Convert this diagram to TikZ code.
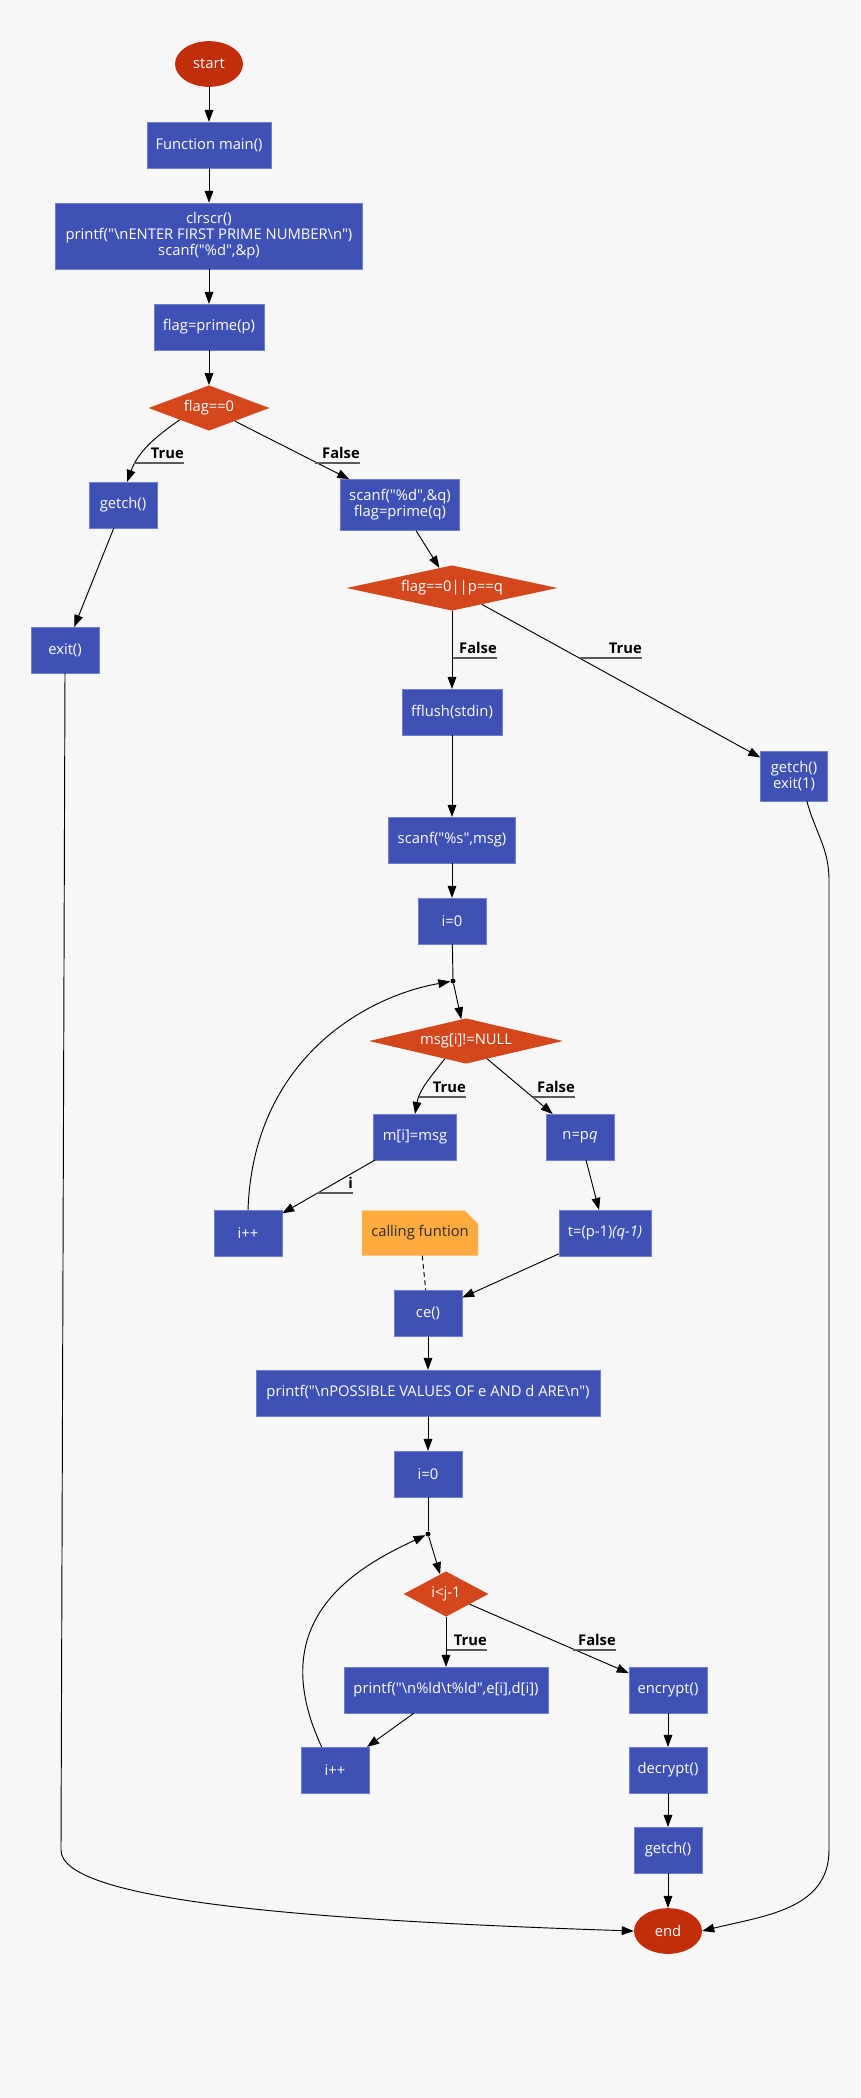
\documentclass[tikz,border=0pt]{standalone}
\usepackage{fontspec}
\setmainfont{Open Sans}[Ligatures=TeXOff]
\usetikzlibrary{shapes.geometric,shapes.misc,arrows.meta,positioning}

\definecolor{bgc}{HTML}{F7F7F7}
\definecolor{boxfill}{HTML}{3F51B5}
\definecolor{boxline}{HTML}{6F7ED0}
\definecolor{ifred}{HTML}{D4461B}
\definecolor{termred}{HTML}{C22E0A}
\definecolor{notefill}{HTML}{FFAB40}
\definecolor{noteline}{HTML}{FFC47E}
\definecolor{notetext}{HTML}{2B2B2B}

\begin{document}
\begin{tikzpicture}[x=0.03cm,y=0.03cm,
          every node/.style={font=\fontsize{12.6}{13.7}\selectfont,text=white,align=center},
          box/.style={rectangle,fill=boxfill,draw=boxline,line width=0.4pt,minimum width=2.04cm,minimum height=1.37cm,inner sep=2pt},
          ifbox/.style={diamond,fill=ifred,aspect=3.5,inner sep=0pt,minimum height=1.36cm},
          term/.style={ellipse,fill=termred,minimum width=2.04cm,minimum height=1.37cm,inner sep=0pt},
          note/.style={chamfered rectangle,chamfered rectangle corners=north east,chamfered rectangle xsep=0.2cm,chamfered rectangle ysep=0.2cm,
                       fill=notefill,draw=noteline,line width=0.4pt,text=notetext,minimum width=3.48cm,minimum height=1.35cm,inner sep=2pt},
          jdot/.style={circle,fill=black,inner sep=0pt,minimum size=0.15cm},
          lab/.style={font=\fontsize{12.6}{13.7}\selectfont\bfseries,text=black,anchor=south east,align=right,
                      inner xsep=0pt,inner ysep=4pt,text depth=0pt,
                      append after command={(\tikzlastnode.south west) edge[uline] (\tikzlastnode.south east)}},
          uline/.style={draw=black!65,line width=1pt},
          arr/.style={draw=black,line width=0.8pt,-{Triangle[length=0.36cm,width=0.26cm]}},
          ln/.style={draw=black,line width=0.8pt}]

                \fill[bgc] (0,0) rectangle (860,-2098);

                \node[term] (S) at (209,-64) {start};
                \node[box, minimum width=3.72cm] (M) at (209,-145) {Function main()};
                \node[box, minimum width=9.21cm, minimum height=1.98cm] (C) at (209,-236)
                     {clrscr()\\printf("\textbackslash nENTER FIRST PRIME NUMBER\textbackslash n")\\scanf("\%d",\&p)};
                \node[box, minimum width=3.3cm] (P) at (209,-327) {flag=prime(p)};
                \node[ifbox, minimum width=3.63cm] (D1) at (209,-408) {flag==0};
                \node[box] (G1) at (123,-505) {getch()};
                \node[box, minimum width=3.57cm, minimum height=1.53cm] (Q) at (400,-505) {scanf("\%d",\&q)\\flag=prime(q)};
                \node[ifbox, minimum width=6.33cm] (D2) at (452,-588) {flag==0||p==q};
                \node[box] (X) at (65,-650) {exit()};
                \node[box, minimum width=3.0cm] (F) at (452,-712) {fflush(stdin)};
                \node[box, minimum width=2.01cm, minimum height=1.5cm] (G2) at (794,-776) {getch()\\exit(1)};
                \node[box, minimum width=3.81cm] (R) at (452,-840) {scanf("\%s",msg)};
                \node[box] (I1) at (452,-921) {i=0};
                \node[jdot] (J1) at (453,-981) {};
                \node[ifbox, minimum width=5.82cm] (D3) at (466,-1041) {msg[i]!=NULL};
                \node[box, minimum width=2.49cm] (MI) at (415,-1137) {m[i]=msg};
                \node[box] (N) at (580,-1137) {n=p\textit{q}};
                \node[box] (K1) at (248,-1233) {i++};
                \node[note] (NT) at (420,-1233) {calling funtion};
                \node[box, minimum width=2.76cm] (T) at (605,-1233) {t=(p-1)\textit{(q-1)}};
                \node[box] (CE) at (428,-1313) {ce()};
                \node[box, minimum width=10.32cm] (PV) at (428,-1393) {printf("\textbackslash nPOSSIBLE VALUES OF e AND d ARE\textbackslash n")};
                \node[box] (I2) at (428,-1474) {i=0};
                \node[jdot] (J2) at (428,-1534) {};
                \node[ifbox, minimum width=2.55cm] (D4) at (446,-1594) {i<j-1};
                \node[box, minimum width=6.12cm] (PL) at (446,-1690) {printf("\textbackslash n\%ld\textbackslash t\%ld",e[i],d[i])};
                \node[box, minimum width=2.34cm] (EN) at (668,-1690) {encrypt()};
                \node[box] (K2) at (335,-1770) {i++};
                \node[box, minimum width=2.34cm] (DE) at (668,-1770) {decrypt()};
                \node[box] (G3) at (668,-1850) {getch()};
                \node[term] (E) at (668,-1931) {end};

                \coordinate (L1) at (61,-1850);
                \coordinate (R1) at (829,-880);
                \coordinate (R2) at (829,-1850);

                \draw[arr] (S) -- (M);
                \draw[arr] (M) -- (C);
                \draw[arr] (C) -- (P);
                \draw[arr] (P) -- (D1);
                \draw[arr] (D1.202) to[out=215,in=70] (G1.80);
                \draw[arr] (D1) -- (Q);
                \draw[arr] (G1) -- (X);
                \draw[arr] (Q) -- (D2);
                \draw[arr] (D2) -- (F);
                \draw[arr] (D2) -- (G2);
                \draw[arr] (F) -- (R);
                \draw[arr] (R) -- (I1);
                \draw[ln] (I1) -- (J1);
                \draw[arr] (J1) -- (D3);
                \draw[arr] (D3.220) to[out=232,in=80] (MI.north);
                \draw[arr] (D3) -- (N);
                \draw[arr] (MI) -- (K1);
                \draw[arr] (K1.north) .. controls +(88:150) and +(190:90) .. (J1);
                \draw[arr] (N) -- (T);
                \draw[arr] (T) -- (CE);
                \draw[ln, dash pattern=on 4pt off 3pt] (NT) -- (CE);
                \draw[arr] (CE) -- (PV);
                \draw[arr] (PV) -- (I2);
                \draw[ln] (I2) -- (J2);
                \draw[arr] (J2) -- (D4);
                \draw[arr] (D4) -- (PL);
                \draw[arr] (D4) -- (EN);
                \draw[arr] (PL) -- (K2);
                \draw[arr] (K2.120) .. controls +(115:140) and +(205:80) .. (J2);
                \draw[arr] (EN) -- (DE);
                \draw[arr] (DE) -- (G3);
                \draw[arr] (G3) -- (E);
                \draw[arr] (X.south) -- (L1) .. controls +(0,-50) and +(-335,11) .. (E.west);
                \draw[arr] (G2.297) to[out=-75,in=90] (R1) -- (R2) .. controls +(0,-60) and +(60,15) .. (E.east);

                \node[lab, text width=1.5cm] (LT1) at (184,-463) {True};
                \node[lab, text width=1.35cm] (LF1) at (360,-463) {False};
                \node[lab, text width=1.32cm] (LF2) at (497,-658) {False};
                \node[lab, text width=1.86cm] (LT2) at (642,-658) {True};
                \node[lab, text width=1.41cm] (LT3) at (466,-1097) {True};
                \node[lab, text width=1.26cm] (LF3) at (575,-1097) {False};
                \node[lab, text width=1.05cm] (LI) at (353,-1193) {i};
                \node[lab, text width=1.2cm] (LT4) at (487,-1650) {True};
                \node[lab, text width=1.29cm] (LF4) at (616,-1650) {False};
              \end{tikzpicture}
\end{document}
